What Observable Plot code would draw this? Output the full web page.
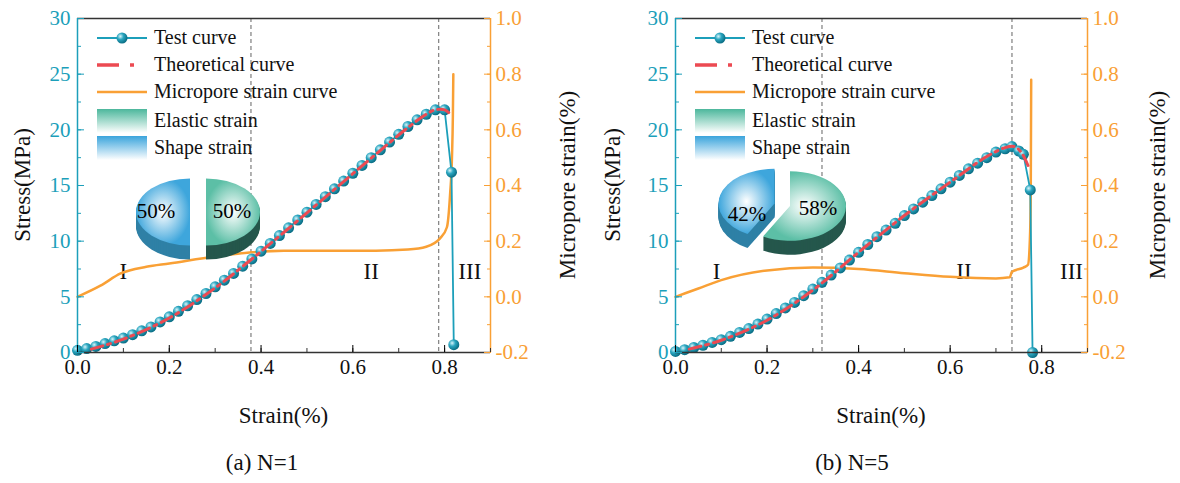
<!DOCTYPE html>
<html><head><meta charset="utf-8">
<script src="https://cdn.jsdelivr.net/npm/d3@7"></script>
<script src="https://cdn.jsdelivr.net/npm/@observablehq/plot@0.6"></script>
<style>body{margin:0;background:#fff}#row{display:flex;width:1180px;height:483px}</style>
</head><body><div id="row"></div>
<script>
// ---------- data ----------
const strainA = [0,0.02,0.04,0.06,0.08,0.10,0.12,0.14,0.16,0.18,0.20,0.22,0.24,0.26,0.28,0.30,0.32,0.34,0.36,0.38,0.40,0.42,0.44,0.46,0.48,0.50,0.52,0.54,0.56,0.58,0.60,0.62,0.64,0.66,0.68,0.70,0.72,0.74,0.76,0.78,0.80,0.815,0.82];
const stressA = [0.2,0.35,0.55,0.8,1.05,1.3,1.6,1.95,2.3,2.75,3.2,3.7,4.2,4.75,5.3,5.9,6.5,7.1,7.75,8.4,9.1,9.8,10.5,11.2,11.9,12.6,13.3,14.0,14.7,15.4,16.1,16.8,17.5,18.2,18.9,19.6,20.3,20.9,21.4,21.8,21.8,16.2,0.7];
const theoStrainA = [0.03,0.1,0.2,0.3,0.38,0.45,0.55,0.65,0.72,0.76,0.78,0.80,0.815];
const theoStressA = [0.3,1.2,3.1,5.8,8.4,10.8,14.3,17.8,20.2,21.4,21.8,21.8,21.3];
const poreStrainA = [0,0.05,0.094,0.15,0.2,0.3,0.38,0.45,0.55,0.65,0.72,0.76,0.79,0.805,0.812,0.816,0.818,0.819];
const poreA = [0,0.04,0.084,0.108,0.12,0.145,0.16,0.166,0.166,0.166,0.17,0.18,0.21,0.25,0.37,0.5,0.65,0.8];
const strainB = [0,0.02,0.04,0.06,0.08,0.10,0.12,0.14,0.16,0.18,0.20,0.22,0.24,0.26,0.28,0.30,0.32,0.34,0.36,0.38,0.40,0.42,0.44,0.46,0.48,0.50,0.52,0.54,0.56,0.58,0.60,0.62,0.64,0.66,0.68,0.70,0.72,0.735,0.75,0.76,0.775,0.78];
const stressB = [0.1,0.25,0.45,0.65,0.9,1.15,1.45,1.8,2.15,2.55,3.0,3.5,4.0,4.5,5.1,5.7,6.3,6.95,7.6,8.3,9.0,9.7,10.4,11.0,11.6,12.3,12.9,13.5,14.1,14.7,15.3,15.9,16.5,17.0,17.5,18.0,18.3,18.5,18.1,17.8,14.6,0];
const theoStrainB = [0.03,0.1,0.2,0.3,0.4,0.5,0.6,0.68,0.72,0.74,0.755,0.77];
const theoStressB = [0.3,1.1,2.9,5.6,9.0,12.3,15.3,17.6,18.4,18.5,18.0,16.8];
const poreStrainB = [0,0.05,0.1,0.2,0.3,0.4,0.5,0.6,0.7,0.73,0.735,0.76,0.77,0.774,0.776,0.777];
const poreB = [0,0.03,0.06,0.095,0.105,0.1,0.085,0.072,0.066,0.07,0.09,0.105,0.115,0.2,0.35,0.78];
const pieA = [{name:"Shape strain",value:50},{name:"Elastic strain",value:50}];
const pieB = [{name:"Shape strain",value:42},{name:"Elastic strain",value:58}];
const legendLabels = ["Test curve","Theoretical curve","Micropore strain curve","Elastic strain","Shape strain"];
const xTicks = [0,0.2,0.4,0.6,0.8];
const yTicks = [0,5,10,15,20,25,30];
const poreTicks = [-0.2,0,0.2,0.4,0.6,0.8,1.0];

const TEAL="#1c9fba", ORANGE="#f9a035", RED="#ec4a52";
const toS = m => (m+0.2)*25;

function panel(o){
  const test = o.strain.map((x,i)=>({x,y:o.stress[i]}));
  const theo = o.tx.map((x,i)=>({x,y:o.ty[i]}));
  const pore = o.px.map((x,i)=>({x,y:toS(o.py[i])}));
  const svg = Plot.plot({
    width:590, height:483, marginLeft:o.ml, marginRight:o.mr, marginTop:18, marginBottom:131,
    x:{domain:[0,0.9]}, y:{domain:[0,30]},
    style:{fontFamily:"Liberation Serif",fontSize:"21px",background:"white"},
    marks:[
      Plot.ruleX(o.dash,{stroke:"#888",strokeDasharray:"4,3",strokeWidth:1.3}),
      Plot.text(o.roman,{x:"x",y:"y",text:"t",fontSize:23,fill:"#111"}),
      Plot.line(pore,{x:"x",y:"y",stroke:ORANGE,strokeWidth:2.5,curve:"monotone-x"}),
      Plot.line(test,{x:"x",y:"y",stroke:TEAL,strokeWidth:1.8}),
      Plot.dot(test,{x:"x",y:"y",r:5.5,fill:"url(#ball)",stroke:"none"}),
      Plot.line(theo,{x:"x",y:"y",stroke:RED,strokeWidth:3,strokeDasharray:"12,5,3,5",curve:"catmull-rom"}),
      Plot.ruleY([30],{stroke:"#333",strokeWidth:1.5}),
      Plot.ruleY([0],{stroke:"#333",strokeWidth:1.5}),
      Plot.ruleX([0],{stroke:TEAL,strokeWidth:1.5}),
      Plot.ruleX([0.9],{stroke:ORANGE,strokeWidth:1.5}),
      Plot.axisX({ticks:d3.range(0,0.91,0.1),tickSize:-4,tickFormat:()=>"",label:null,stroke:"#333"}),
      Plot.axisX({ticks:xTicks,tickSize:-7,tickPadding:14,tickFormat:d=>d.toFixed(1),label:null,fill:"#111"}),
      Plot.axisY({ticks:d3.range(0,30.1,2.5),tickSize:-4,tickFormat:()=>"",label:null,stroke:TEAL}),
      Plot.axisY({ticks:yTicks,tickSize:-7,tickPadding:14,label:null,fill:TEAL,stroke:TEAL}),
      Plot.axisY({anchor:"right",ticks:d3.range(0,30.1,2.5),tickSize:-4,tickFormat:()=>"",label:null,stroke:ORANGE}),
      Plot.axisY({anchor:"right",ticks:poreTicks.map(toS),tickSize:-7,tickPadding:12,tickFormat:d=>(d/25-0.2).toFixed(1),label:null,fill:ORANGE,stroke:ORANGE})
    ]
  });
  const s = d3.select(svg);
  const X = svg.scale("x").apply;
  const defs = s.append("defs");
  const rg = defs.append("radialGradient").attr("id","ball").attr("cx","35%").attr("cy","35%").attr("r","65%");
  rg.append("stop").attr("offset","0%").attr("stop-color","#d8f4fa");
  rg.append("stop").attr("offset","45%").attr("stop-color","#2aa6c0");
  rg.append("stop").attr("offset","100%").attr("stop-color","#0b6f86");
  const mk=(id,c1,c2,type)=>{const g=defs.append(type).attr("id",id+o.id);
    if(type==="linearGradient")g.attr("x1",0).attr("y1",0).attr("x2",0).attr("y2",1);
    g.append("stop").attr("offset","0%").attr("stop-color",c1);g.append("stop").attr("offset","100%").attr("stop-color",c2);};
  mk("lgG","#4cb79c","#ffffff","linearGradient"); mk("lgB","#3aa4dc","#ffffff","linearGradient");
  mk("tpG","#ffffff","#5cbfa6","radialGradient"); mk("tpB","#ffffff","#3ea6dc","radialGradient");
  // legend
  const L = s.append("g").style("font-family","Liberation Serif").style("font-size","20px").attr("text-anchor","start");
  const lx=o.ml+20, rows=[38,65,92,121,148];
  L.append("line").attr("x1",lx).attr("x2",lx+50).attr("y1",rows[0]).attr("y2",rows[0]).attr("stroke",TEAL).attr("stroke-width",1.8);
  L.append("circle").attr("cx",lx+25).attr("cy",rows[0]).attr("r",5.5).attr("fill","url(#ball)");
  L.append("line").attr("x1",lx).attr("x2",lx+50).attr("y1",rows[1]).attr("y2",rows[1]).attr("stroke",RED).attr("stroke-width",3.5).attr("stroke-dasharray","22,11,4,20");
  L.append("line").attr("x1",lx).attr("x2",lx+50).attr("y1",rows[2]).attr("y2",rows[2]).attr("stroke",ORANGE).attr("stroke-width",2.5);
  L.append("rect").attr("x",lx).attr("y",rows[3]-12).attr("width",50).attr("height",24).attr("fill",`url(#lgG${o.id})`);
  L.append("rect").attr("x",lx).attr("y",rows[4]-12).attr("width",50).attr("height",24).attr("fill",`url(#lgB${o.id})`);
  legendLabels.forEach((t,i)=>L.append("text").attr("x",lx+57).attr("y",rows[i]+6).attr("text-anchor","start").text(t).attr("fill","#111"));
  // pie
  const P = s.append("g");
  const arcs = d3.pie().value(d=>d.value).sort(null)(o.pie);
  const off = -arcs[0].endAngle;
  const arc = d3.arc().innerRadius(0).outerRadius(o.rad);
  const depth=14, sy=0.62;
  arcs.forEach((a,i)=>{
    const A={...a,startAngle:a.startAngle+off,endAngle:a.endAngle+off};
    const mid=(A.startAngle+A.endAngle)/2;
    const ex=o.explode[i], dx=ex*Math.sin(mid), dy=-ex*Math.cos(mid)*sy;
    const sideCol = i===0?"#2f80a6":"#25574c";
    for(let k=depth;k>0;k--){
      P.append("path").attr("d",arc(A)).attr("fill",sideCol)
       .attr("transform",`translate(${o.pc[0]+dx},${o.pc[1]+dy+k}) scale(1,${sy})`);
    }
    P.append("path").attr("d",arc(A)).attr("fill",`url(#${i===0?"tpB":"tpG"}${o.id})`)
       .attr("transform",`translate(${o.pc[0]+dx},${o.pc[1]+dy}) scale(1,${sy})`);
  });
  o.pieText.forEach((t,i)=>P.append("text").attr("x",t[0]).attr("y",t[1]).style("font-family","Liberation Serif").style("font-size","21px").attr("text-anchor","middle").text(o.pie[i].value+"%"));
  // labels
  const T=s.append("g").style("font-family","Liberation Serif").style("font-size","23px").attr("fill","#111").attr("text-anchor","middle");
  T.append("text").attr("x",(X(0)+X(0.9))/2).attr("y",423).text("Strain(%)");
  T.append("text").attr("x",o.capX).attr("y",470).text(o.caption);
  T.append("text").attr("transform",`translate(${o.ylx},185) rotate(-90)`).text("Stress(MPa)");
  T.append("text").attr("transform",`translate(${o.yrx},185) rotate(-90)`).text("Micropore strain(%)");
  return svg;
}
const row=document.getElementById("row");
row.append(panel({id:"a",ml:77,mr:100,strain:strainA,stress:stressA,tx:theoStrainA,ty:theoStressA,px:poreStrainA,py:poreA,
  dash:[0.378,0.787],roman:[{x:0.1,y:7.3,t:"I"},{x:0.64,y:7.3,t:"II"},{x:0.855,y:7.3,t:"III"}],
  pie:pieA,pc:[198,212],rad:54,explode:[8,8],pieText:[[156,218],[232,218]],capX:262,caption:"(a) N=1",ylx:30,yrx:575}));
row.append(panel({id:"b",ml:85,mr:93,strain:strainB,stress:stressB,tx:theoStrainB,ty:theoStressB,px:poreStrainB,py:poreB,
  dash:[0.32,0.735],roman:[{x:0.09,y:7.3,t:"I"},{x:0.63,y:7.3,t:"II"},{x:0.865,y:7.3,t:"III"}],
  pie:pieB,pc:[200,206],rad:56,explode:[16,0],pieText:[[157,221],[228,215]],capX:262,caption:"(b) N=5",ylx:30,yrx:575}));
</script></body></html>
